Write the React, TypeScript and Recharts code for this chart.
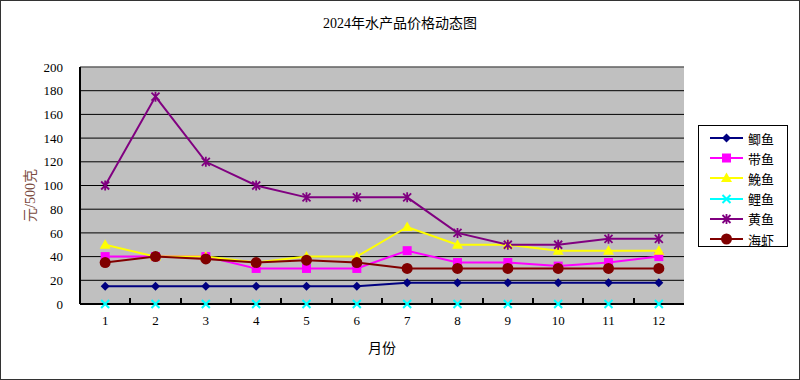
import React from "react";
import {
  LineChart,
  Line,
  XAxis,
  YAxis,
  CartesianGrid,
  Legend,
  ReferenceLine,
  Label,
} from "recharts";

const months = ["1", "2", "3", "4", "5", "6", "7", "8", "9", "10", "11", "12"];
const jiyu = [15, 15, 15, 15, 15, 15, 18, 18, 18, 18, 18, 18];
const daiyu = [40, 40, 40, 30, 30, 30, 45, 35, 35, 32, 35, 40];
const mianyu = [50, 40, 40, 35, 40, 40, 65, 50, 50, 45, 45, 45];
const liyu = [0, 0, 0, 0, 0, 0, 0, 0, 0, 0, 0, 0];
const huangyu = [100, 175, 120, 100, 90, 90, 90, 60, 50, 50, 55, 55];
const haixia = [35, 40, 38, 35, 37, 35, 30, 30, 30, 30, 30, 30];
const yTicks = [0, 20, 40, 60, 80, 100, 120, 140, 160, 180, 200];

const data = months.map((m, i) => ({
  month: m,
  jiyu: jiyu[i],
  daiyu: daiyu[i],
  mianyu: mianyu[i],
  liyu: liyu[i],
  huangyu: huangyu[i],
  haixia: haixia[i],
}));

type Shape = "diamond" | "square" | "triangle" | "cross" | "star" | "circle";

const series: { key: string; name: string; color: string; shape: Shape }[] = [
  { key: "jiyu", name: "鲫鱼", color: "#000080", shape: "diamond" },
  { key: "daiyu", name: "带鱼", color: "#ff00ff", shape: "square" },
  { key: "mianyu", name: "鮸鱼", color: "#ffff00", shape: "triangle" },
  { key: "liyu", name: "鲤鱼", color: "#00ffff", shape: "cross" },
  { key: "huangyu", name: "黄鱼", color: "#800080", shape: "star" },
  { key: "haixia", name: "海虾", color: "#800000", shape: "circle" },
];

const FONT = "'Liberation Serif', 'Noto Sans CJK SC', serif";
const WIDTH = 800;
const HEIGHT = 380;
const MARGIN = { top: 67, right: 116, bottom: 0, left: 0 };
const Y_AXIS_W = 80;
const X_AXIS_H = 76;
const BAND = (WIDTH - MARGIN.left - MARGIN.right - Y_AXIS_W) / months.length;
const AXIS_Y = HEIGHT - MARGIN.bottom - X_AXIS_H;

function Marker({ cx, cy, shape, color }: { cx: number; cy: number; shape: Shape; color: string }) {
  switch (shape) {
    case "diamond":
      return <polygon points={`${cx},${cy - 4.5} ${cx + 4.5},${cy} ${cx},${cy + 4.5} ${cx - 4.5},${cy}`} fill={color} />;
    case "square":
      return <rect x={cx - 4.5} y={cy - 4.5} width={9} height={9} fill={color} />;
    case "triangle":
      return <polygon points={`${cx},${cy - 5.5} ${cx + 5.5},${cy + 4} ${cx - 5.5},${cy + 4}`} fill={color} />;
    case "cross":
      return (
        <path d={`M${cx - 4},${cy - 4}L${cx + 4},${cy + 4}M${cx - 4},${cy + 4}L${cx + 4},${cy - 4}`} stroke={color} strokeWidth={2} />
      );
    case "star":
      return (
        <path
          d={`M${cx - 4},${cy - 4}L${cx + 4},${cy + 4}M${cx - 4},${cy + 4}L${cx + 4},${cy - 4}M${cx},${cy - 5}L${cx},${cy + 5}`}
          stroke={color}
          strokeWidth={1.8}
        />
      );
    default:
      return <circle cx={cx} cy={cy} r={5.5} fill={color} />;
  }
}

function LegendBox() {
  return (
    <div
      style={{
        width: 90,
        height: 122,
        border: "1px solid #000",
        background: "#fff",
        boxSizing: "border-box",
        paddingTop: 2,
      }}
    >
      {series.map((s) => (
        <div key={s.key} style={{ display: "flex", alignItems: "center", height: 20.2 }}>
          <svg width={46} height={20}>
            <line x1={11} y1={10} x2={44} y2={10} stroke={s.color} strokeWidth={2} />
            <Marker cx={27.5} cy={10} shape={s.shape} color={s.color} />
          </svg>
          <span style={{ fontFamily: FONT, fontSize: 13, color: "#000", marginLeft: 3 }}>{s.name}</span>
        </div>
      ))}
    </div>
  );
}

export default function App() {
  return (
    <div style={{ position: "absolute", left: 0, top: 0, width: WIDTH, height: HEIGHT, background: "#fff" }}>
      <div
        style={{
          position: "absolute",
          left: 0,
          top: 12,
          width: WIDTH,
          textAlign: "center",
          fontFamily: FONT,
          fontSize: 14,
          color: "#000",
        }}
      >
        2024年水产品价格动态图
      </div>
      <LineChart width={WIDTH} height={HEIGHT} data={data} margin={MARGIN} style={{ fontFamily: FONT }}>
        <CartesianGrid vertical={false} fill="#c0c0c0" stroke="#000" strokeOpacity={1} horizontalValues={yTicks} />
        <XAxis
          dataKey="month"
          scale="band"
          height={X_AXIS_H}
          tickLine={false}
          tickSize={0}
          tickMargin={12}
          axisLine={{ stroke: "#000", strokeWidth: 2 }}
          tick={{ fill: "#000", fontSize: 13 }}
          interval={0}
        >
          <Label value="月份" position="insideBottom" offset={27} fill="#000" fontSize={14} />
        </XAxis>
        <YAxis
          domain={[0, 200]}
          ticks={yTicks}
          width={Y_AXIS_W}
          tickLine={false}
          tickMargin={11}
          axisLine={{ stroke: "#000", strokeWidth: 2 }}
          tick={{ fill: "#000", fontSize: 13 }}
        >
          <Label
            value="元/500克"
            angle={-90}
            position="insideLeft"
            offset={30}
            dy={10}
            fill="#7a4a40"
            fontSize={14}
            style={{ textAnchor: "middle" }}
          />
        </YAxis>
        <YAxis
          yAxisId="r"
          orientation="right"
          domain={[0, 200]}
          width={0}
          tick={false}
          tickLine={false}
          axisLine={{ stroke: "#909090" }}
        />
        <ReferenceLine y={200} stroke="#909090" />
        {series.map((s) => (
          <Line
            key={s.key}
            dataKey={s.key}
            name={s.name}
            stroke={s.color}
            strokeWidth={2}
            isAnimationActive={false}
            dot={(p: any) => <Marker key={`${s.key}-${p.index}`} cx={p.cx} cy={p.cy} shape={s.shape} color={s.color} />}
            activeDot={false}
          />
        ))}
        <Legend
          layout="horizontal"
          verticalAlign="middle"
          content={() => <LegendBox />}
          wrapperStyle={{ left: 698, top: 125, width: 92, height: 124 }}
        />
      </LineChart>
      {/* short inward ticks at the category boundaries */}
      {months.slice(1).map((m, i) => (
        <div
          key={m}
          style={{
            position: "absolute",
            left: Math.round(MARGIN.left + Y_AXIS_W + BAND * (i + 1)) - 1,
            top: AXIS_Y - 6,
            width: 1.5,
            height: 6,
            background: "#000",
            pointerEvents: "none",
          }}
        />
      ))}
      <div
        style={{
          position: "absolute",
          left: 0,
          top: 0,
          width: WIDTH,
          height: HEIGHT,
          border: "1px solid #333",
          boxSizing: "border-box",
          pointerEvents: "none",
        }}
      />
    </div>
  );
}
